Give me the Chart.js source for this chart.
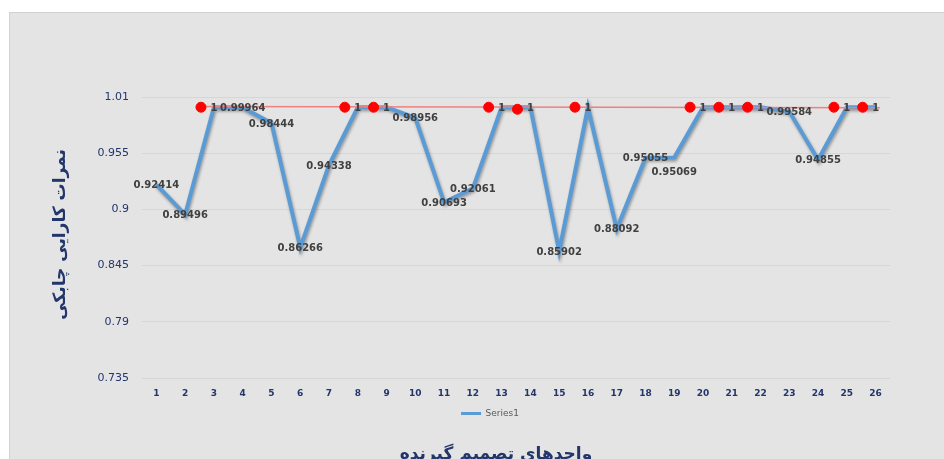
<!DOCTYPE html>
<html>
<head>
<meta charset="utf-8">
<script src="https://cdn.jsdelivr.net/npm/chart.js@4/dist/chart.umd.min.js"></script>
<style>
  html, body { margin: 0; padding: 0; background: #ffffff; overflow: hidden; }
  #frame {
    position: absolute; left: 9px; top: 12px; width: 935px; height: 447px;
    background: #e4e4e4; border-top: 1px solid #d2d2d2; border-left: 1px solid #d2d2d2;
    box-sizing: border-box; overflow: hidden;
  }
  #grafico { position: absolute; left: 0; top: 0; }
</style>
</head>
<body>
<div id="frame"><canvas id="grafico" width="934" height="446"></canvas></div>
<script>
// dados do gráfico
const units = ['1','2','3','4','5','6','7','8','9','10','11','12','13','14','15','16','17','18','19','20','21','22','23','24','25','26'];
const scores = [0.92414, 0.89496, 1, 0.99964, 0.98444, 0.86266, 0.94338, 1, 1, 0.98956, 0.90693, 0.92061, 1,
                1, 0.85902, 1, 0.88092, 0.95055, 0.95069, 1, 1, 1, 0.99584, 0.94855, 1, 1];
const efficientUnits = [3, 8, 9, 13, 14, 16, 20, 21, 22, 25, 26];
const efficientScores = [1, 1, 1, 1, 0.998, 1, 1, 1, 1, 1, 1];
const frontierX = [2.97, 26.6];
const frontierY = [1.0007, 0.9995];
const yTicks = [0.735, 0.79, 0.845, 0.9, 0.955, 1.01];

const yTitle = 'نمرات کارایی چابکی';
const xTitle = 'واحدهای تصمیم گیرنده';
const navy = '#22366c';

// sombra da linha azul
const shadowPlugin = {
  id: 'shadow',
  beforeDatasetDraw(chart, args) {
    if (args.index !== 0) return;
    const c = chart.ctx;
    c.save();
    c.shadowColor = 'rgba(0,0,0,0.35)';
    c.shadowBlur = 3;
    c.shadowOffsetX = 1;
    c.shadowOffsetY = 2;
  },
  afterDatasetDraw(chart, args) {
    if (args.index !== 0) return;
    chart.ctx.restore();
  }
};

// rótulos dos valores + títulos dos eixos
const labelsPlugin = {
  id: 'valueLabels',
  afterDatasetsDraw(chart) {
    const c = chart.ctx;
    const meta = chart.getDatasetMeta(0);
    c.save();
    c.font = 'bold 10px "DejaVu Sans"';
    c.fillStyle = '#404040';
    c.textAlign = 'center';
    c.textBaseline = 'middle';
    let prev = null;
    meta.data.forEach((pt, i) => {
      const txt = String(scores[i]);
      const w = c.measureText(txt).width;
      let y = pt.y + 1;
      const box = { l: pt.x - w / 2, r: pt.x + w / 2, y: y };
      if (prev && box.l < prev.r && Math.abs(box.y - prev.y) < 11) {
        y += 14;
        box.y = y;
      }
      c.fillText(txt, pt.x, y);
      prev = box;
    });
    c.restore();
  },
  afterDraw(chart) {
    const c = chart.ctx;
    const a = chart.chartArea;
    c.save();
    c.fillStyle = navy;
    c.font = 'bold 17px "DejaVu Sans"';
    c.textAlign = 'center';
    c.textBaseline = 'middle';
    c.translate(51, (a.top + a.bottom) / 2 - 3);
    c.rotate(-Math.PI / 2);
    c.fillText(yTitle, 0, 0);
    c.restore();
    c.save();
    c.fillStyle = navy;
    c.font = 'bold 17px "DejaVu Sans"';
    c.textAlign = 'center';
    c.textBaseline = 'middle';
    c.fillText(xTitle, (a.left + a.right) / 2 - 20, 442);
    c.restore();
  }
};

const ctx = document.getElementById('grafico').getContext('2d');
const chart = new Chart(ctx, {
  type: 'line',
  data: {
    labels: units,
    datasets: [
      {
        label: 'Series1',
        data: scores,
        borderColor: '#5b9bd5',
        backgroundColor: '#5b9bd5',
        borderWidth: 4,
        pointRadius: 0,
        tension: 0,
        order: 2
      },
      {
        label: 'frontier',
        type: 'line',
        xAxisID: 'x2',
        data: frontierX.map((x, i) => ({ x: x, y: frontierY[i] })),
        borderColor: '#ef8080',
        borderWidth: 1.5,
        pointRadius: 0,
        order: 1
      },
      {
        label: 'efficient',
        type: 'scatter',
        xAxisID: 'x2',
        data: efficientUnits.map((x, i) => ({ x: x, y: efficientScores[i] })),
        backgroundColor: '#ff0000',
        borderColor: '#ff0000',
        pointRadius: 5,
        order: 0
      }
    ]
  },
  options: {
    responsive: false,
    maintainAspectRatio: false,
    animation: false,
    devicePixelRatio: 1,
    layout: { padding: { left: 80, top: 84, right: 54, bottom: 31 } },
    plugins: {
      tooltip: { enabled: false },
      legend: {
        position: 'bottom',
        labels: {
          color: '#595959',
          font: { family: '"DejaVu Sans"', size: 9 },
          boxWidth: 20,
          boxHeight: 3,
          padding: 10,
          generateLabels: () => [{
            text: 'Series1', fillStyle: '#5b9bd5', strokeStyle: '#5b9bd5',
            lineWidth: 0, hidden: false, datasetIndex: 0, fontColor: '#595959'
          }]
        }
      }
    },
    scales: {
      x: {
        offset: true,
        grid: { display: false, drawTicks: false, offset: true },
        border: { display: false },
        ticks: {
          color: navy,
          font: { family: '"DejaVu Sans"', size: 9, weight: 'bold' },
          padding: 10,
          maxRotation: 0,
          autoSkip: false
        },
        afterFit: s => { s.height = 21; }
      },
      x2: {
        type: 'linear',
        display: false,
        min: 0.95,
        max: 26.95
      },
      y: {
        min: 0.735,
        max: 1.01,
        afterBuildTicks: s => { s.ticks = yTicks.map(v => ({ value: v })); },
        grid: { color: '#d6d6d6', drawTicks: false, lineWidth: 1 },
        border: { display: false },
        ticks: {
          color: navy,
          font: { family: '"DejaVu Sans"', size: 11 },
          padding: 13,
          callback: v => String(v)
        },
        afterFit: s => { s.width = 52; }
      }
    }
  },
  plugins: [shadowPlugin, labelsPlugin]
});
</script>
</body>
</html>
